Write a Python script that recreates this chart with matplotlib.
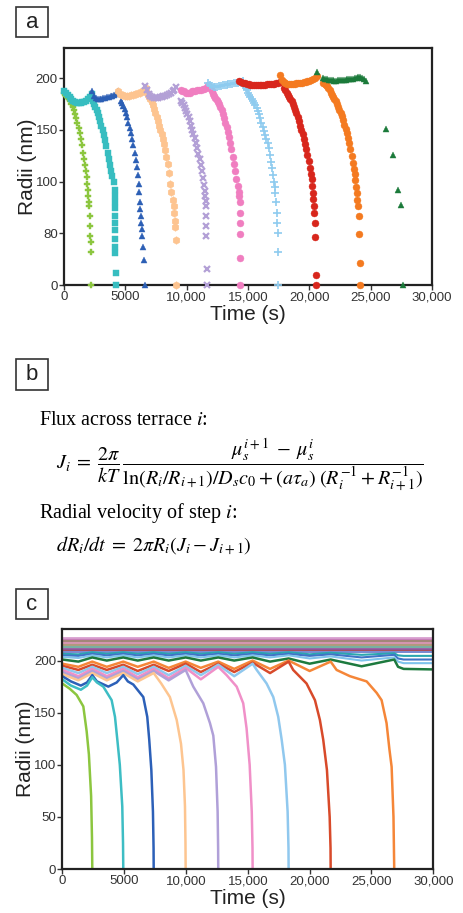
import numpy as np
import matplotlib
matplotlib.use('Agg')
import matplotlib.pyplot as plt
from matplotlib.patches import Rectangle

plt.rcParams['font.family'] = ['Liberation Sans', 'DejaVu Sans']
plt.rcParams['mathtext.fontset'] = 'stix'

# ---------------- panel a : measured radii (time s, radius nm) ----------------
a_green = np.array([(0,186),(100,184),(200,183),(300,181),(400,180),(500,178),(600,175),(700,172),(800,169),(900,165),
                    (1000,161),(1100,157),(1200,152),(1300,147),(1400,141),(1500,135),(1580,128),(1650,122),(1720,116),
                    (1790,110),(1850,104),(1900,98),(1950,92),(1990,86),(2030,80),(2060,76),(2090,67),(2120,57),
                    (2150,47),(2170,42),(2190,32),(2210,0)])
a_cyan = np.array([(0,187),(150,186),(300,184),(450,182),(600,180),(750,178),(900,177),(1050,176),(1200,176),(1350,176),
                   (1500,177),(1650,177),(1800,178),(1950,180),(2100,182),(2250,185),
                   (2350,178),(2450,175),(2550,172),(2650,169),(2750,166),(2850,162),(2950,158),(3050,154),(3150,150),
                   (3250,145),(3350,140),(3450,134),(3550,128),(3650,122),(3750,116),(3850,110),(3950,105),(4050,100),
                   (4120,92),(4160,86),(4170,80),(4170,74),(4170,67),(4170,60),(4180,53),(4180,44),(4180,37),(4190,31),
                   (4200,12),(4200,0)])
a_blue = np.array([(2300,187),(2450,183),(2600,181),(2750,180),(2900,180),(3050,180),(3200,181),(3350,181),(3500,182),
                   (3650,182),(3800,183),(3950,183),(4100,184),(4250,185),(4400,187),
                   (4650,178),(4750,176),(4850,173),(4950,170),(5050,166),(5150,162),(5250,157),(5350,152),(5450,147),
                   (5550,141),(5650,135),(5750,128),(5850,121),(5950,114),(6050,106),(6100,98),(6150,90),(6190,80),
                   (6200,73),(6250,67),(6290,60),(6330,54),(6380,47),(6450,37),(6560,24),(6620,0)])
a_peach = np.array([(4400,187),(4550,185),(4700,184),(4850,184),(5000,183),(5150,183),(5300,183),(5450,184),(5600,184),
                    (5750,185),(5900,185),(6050,186),(6200,186),(6350,187),(6500,188),(6650,190),
                    (6750,186),(6850,184),(6950,182),(7050,180),(7150,177),(7250,174),(7350,170),(7450,166),(7550,162),
                    (7650,158),(7750,154),(7850,150),(7950,146),(8050,141),(8150,136),(8250,130),(8350,124),(8450,117),
                    (8550,108),(8650,98),(8750,90),(8850,82),(8950,76),(9000,70),(9050,62),(9070,56),(9100,43),(9100,0)])
a_lav = np.array([(6600,192),(6750,188),(6900,185),(7050,183),(7200,182),(7350,181),(7500,181),(7650,181),(7800,182),
                  (7950,182),(8100,183),(8250,183),(8400,184),(8550,185),(8700,186),(8850,187),(9000,188),(9150,191),
                  (9550,178),(9650,176),(9750,174),(9850,171),(9950,168),(10050,165),(10150,162),(10250,158),
                  (10350,154),(10450,150),(10550,146),(10650,142),(10750,137),(10850,132),(10950,127),(11050,122),
                  (11150,116),(11250,110),(11350,103),(11420,97),(11480,91),(11520,86),(11560,81),(11560,76),
                  (11570,67),(11580,57),(11600,47),(11620,15),(11640,0)])
a_pink = np.array([(9500,188),(9650,187),(9800,187),(9950,186),(10100,186),(10250,186),(10400,187),(10550,187),
                   (10700,187),(10850,188),(11000,188),(11150,188),(11300,189),(11450,189),(11600,190),(11750,193),
                   (11850,191),(11950,189),(12050,187),(12150,185),(12250,183),(12350,181),(12450,179),(12550,177),
                   (12650,175),(12750,172),(12850,169),(12950,165),(13050,161),(13150,157),(13250,153),(13350,148),
                   (13450,143),(13550,137),(13650,131),(13750,124),(13850,117),(13950,110),(14050,102),(14150,96),
                   (14250,90),(14300,86),(14320,80),(14340,70),(14340,60),(14340,49),(14350,26),(14360,0)])
a_lblue = np.array([(11750,195),(11900,193),(12050,192),(12200,191),(12350,191),(12500,191),(12650,192),(12800,192),
                    (12950,193),(13100,193),(13250,193),(13400,194),(13550,194),(13700,194),(13850,195),(14000,195),
                    (14150,195),(14300,196),(14450,196),(14600,197),
                    (14700,192),(14800,190),(14900,188),(15000,186),(15100,184),(15200,182),(15300,180),(15400,178),
                    (15500,176),(15600,174),(15700,171),(15800,168),(15900,165),(16000,161),(16100,157),(16200,153),
                    (16300,149),(16400,145),(16500,141),(16600,137),(16700,132),(16800,126),(16900,119),(16980,113),
                    (17050,106),(17120,100),(17180,95),(17240,89),(17300,80),(17350,70),(17400,60),(17430,50),
                    (17460,32),(17480,0)])
a_red = np.array([(14300,197),(14450,196),(14600,195),(14750,195),(14900,194),(15050,194),(15200,193),(15350,193),
                  (15500,193),(15650,193),(15800,193),(15950,193),(16100,193),(16250,193),(16400,193),(16550,194),
                  (16700,194),(16850,194),(17000,194),(17150,194),(17300,195),(17450,195),(17600,196),(17750,197),
                  (17950,190),(18050,188),(18150,186),(18250,184),(18350,182),(18450,180),(18550,178),(18650,175),
                  (18750,172),(18850,169),(18950,166),(19050,162),(19150,158),(19250,154),(19350,150),(19450,146),
                  (19550,141),(19650,136),(19750,131),(19850,126),(19950,120),(20050,113),(20120,107),(20180,102),
                  (20230,96),(20280,89),(20320,83),(20360,76),(20400,70),(20440,60),(20480,46),(20530,10),(20580,0)])
a_orange = np.array([(17600,203),(17750,198),(17900,196),(18050,195),(18200,194),(18350,194),(18500,194),(18650,194),
                     (18800,194),(18950,195),(19100,195),(19250,195),(19400,195),(19550,196),(19700,196),(19850,197),
                     (20000,197),(20150,198),(20300,199),(20450,200),(20600,202),
                     (21150,195),(21250,194),(21350,193),(21450,192),(21550,190),(21650,188),(21750,186),(21850,184),
                     (21950,182),(22050,180),(22150,178),(22250,175),(22350,172),(22450,169),(22550,166),(22650,163),
                     (22750,159),(22850,155),(22950,151),(23050,147),(23150,142),(23250,137),(23350,131),(23450,125),
                     (23550,118),(23630,112),(23700,107),(23760,101),(23820,95),(23870,89),(23920,82),(23970,76),
                     (24020,67),(24080,49),(24120,21),(24160,0)])
a_dgreen = np.array([(20600,206),(21150,200),(21300,199),(21450,199),(21600,198),(21750,198),(21900,198),(22050,197),
                     (22200,197),(22350,198),(22500,198),(22650,198),(22800,198),(22950,198),(23100,199),(23250,199),
                     (23400,199),(23550,199),(23700,200),(23850,200),(24000,201),(24150,201),(24300,200),(24450,199),
                     (24600,197),(26210,151),(26810,126),(27220,92),(27440,77),(27630,0)])

# ---------------- panel c : simulated radii ----------------
c_green = np.array([(0,178),(600,173),(1160,167),(1700,156),(1970,132),(2150,110),(2330,70),(2400,30),(2425,0)])
c_cyan = np.array([(0,182),(700,176),(1500,172),(2000,176),(2425,184),(2800,179),(3315,175),(3990,162),(4260,146),
                   (4450,124),(4650,100),(4850,60),(4910,25),(4930,0)])
c_blue = np.array([(0,185),(700,180),(1500,176),(2000,179),(2425,186),(2800,180),(3720,175),(4400,179),(4930,186),
                   (5300,180),(5740,177),(6550,165),(6870,146),(7030,124),(7200,95),(7330,55),(7380,20),(7390,0)])
c_peach = np.array([(0,187),(1300,181),(2425,188),(3600,181),(4930,188),(6100,180),(7390,188),(8000,178),(8700,165),
                    (9250,143),(9600,120),(9800,95),(9920,60),(9960,25),(9975,0)])
c_lav = np.array([(0,189),(1300,183),(2425,190),(3600,183),(4930,190),(6100,182),(7390,190),(8600,181),(9975,191),
                  (10590,175),(11400,159),(11940,140),(12210,128),(12430,98),(12560,55),(12600,20),(12610,0)])
c_pink = np.array([(0,191),(1300,185),(2425,192),(3600,185),(4930,192),(6100,184),(7390,192),(8600,183),(9975,193),
                   (11200,182),(12610,194),(13290,186),(14100,175),(14630,159),(14900,135),(15150,100),(15320,55),
                   (15380,20),(15390,0)])
c_lblue = np.array([(0,193),(1300,188),(2425,194),(3600,188),(4930,194),(6100,187),(7390,194),(8600,186),(9975,195),
                    (11200,186),(12610,196),(13900,185),(15390,197),(15720,191),(16520,178),(17060,165),(17460,146),
                    (17740,124),(18000,100),(18220,55),(18290,20),(18300,0)])
c_red = np.array([(0,195),(1300,191),(2425,196),(3600,191),(4930,196),(6100,190),(7390,196),(8600,190),(9975,197),
                  (11200,189),(12610,197),(13900,189),(15390,198),(16800,188),(18300,199),(18670,191),(19750,178),
                  (20430,162),(20830,143),(21100,124),(21400,95),(21620,50),(21690,20),(21700,0)])
c_orange = np.array([(0,197),(1300,194),(2425,199),(3600,194),(4930,199),(6100,194),(7390,199),(8600,193),(9975,199),
                     (11200,193),(12610,199),(13900,192),(15390,200),(16800,192),(18300,200),(20000,190),(21700,199),
                     (22180,191),(23260,185),(24610,180),(25420,169),(25820,162),(26220,140),(26450,115),(26630,98),
                     (26780,50),(26840,0)])
c_time = [0,1300,2425,3600,4930,6100,7390,8600,9975,11200,12610,13900,15390,16800,18300,20000,21700,24200,26840,27150,27600,30000]
c_dgreen = [201,199,203,200,203,200,203,200,203,200,203,200,203,199,202,197,201,194.5,201,194,192,191.5]
c_surv1 = [203.5,202.5,205,203,205,203,205,203,205,203,205,203,205,203,205,202,204,200,203,199,197.5,197.5]
c_surv2 = [205,204.5,206.5,205,206.5,205,206.5,205,206.5,205,206.5,205,206.5,205,206.5,204.5,206,203,205.5,202,201,201]
c_surv3 = [206.5,206,208,206.5,208,206.5,208,206.5,208,206.5,208,206.5,208,206.5,208,206,207.5,205.5,207,205,204.5,204.5]
flat_ends = [0, 30000]
flat_levels = [208.5, 210, 211.5, 213, 215, 217, 218.5, 220.5, 222]

xticks = [0, 5000, 10000, 15000, 20000, 25000, 30000]
xticklabels = ['0', '5000', '10,000', '15,000', '20,000', '25,000', '30,000']
a_yticklabels = ['0', '80', '100', '150', '200']
c_yticklabels = ['0', '50', '100', '150', '200']

W, H = 463, 913
fig = plt.figure(figsize=(W / 100, H / 100), dpi=100)


def style_axes(ax, ylim, ylabels):
    ax.set_xlim(0, 30000)
    ax.set_ylim(0, ylim)
    ax.set_xticks(xticks)
    ax.set_xticklabels(xticklabels)
    ax.set_yticks([0, 50, 100, 150, 200])
    ax.set_yticklabels(ylabels)
    ax.tick_params(direction='out', length=3.5, width=1, labelsize=9.5, pad=1, colors='#333333')
    for s in ax.spines.values():
        s.set_linewidth(1.6)
        s.set_color('#222222')
    ax.set_xlabel('Time (s)', fontsize=15, labelpad=1, color='#222222')
    ax.set_ylabel('Radii (nm)', fontsize=15, labelpad=-1, color='#222222')


# panel a
ax_a = fig.add_axes([64 / W, 1 - 285 / H, 368 / W, 237 / H])
series_a = [
    (a_green, '#8cc63f', 'P', 5, 0),
    (a_cyan, '#37bdc0', 's', 4.5, 0),
    (a_blue, '#2c5fb5', '^', 5, 0),
    (a_peach, '#fdc490', 'h', 5.5, 0),
    (a_lav, '#b3a0d6', 'x', 5, 1.6),
    (a_pink, '#f07ec0', 'o', 5, 0),
    (a_lblue, '#8ecbef', '+', 6, 1.2),
    (a_red, '#d8261c', 'o', 5, 0),
    (a_orange, '#f47a20', 'o', 5, 0),
    (a_dgreen, '#1b7a3a', '^', 5, 0),
]
for pts, col, mk, ms, mew in series_a:
    ax_a.plot(pts[:, 0], pts[:, 1], linestyle='none', marker=mk, ms=ms, color=col,
              mew=mew if mew else 0.3, mec=col, clip_on=False, zorder=3)
style_axes(ax_a, 229, a_yticklabels)

# panel c
ax_c = fig.add_axes([62.3 / W, 1 - 869 / H, 371 / W, 239.7 / H])
flat_colors = ['#6d7fcc', '#a23a4a', '#8c559c', '#6aa89a', '#a89070', '#d08aa8', '#9a7a6a', '#c070b0', '#d8a0d0']
for lev, col in zip(flat_levels, flat_colors):
    ax_c.plot(flat_ends, [lev, lev], color=col, lw=1.3)
ax_c.plot(c_time, c_surv3, color='#2aa6b0', lw=1.5)
ax_c.plot(c_time, c_surv2, color='#3f74c6', lw=1.5)
ax_c.plot(c_time, c_surv1, color='#7ec3ec', lw=1.5)
ax_c.plot(c_time, c_dgreen, color='#1d7a3e', lw=1.8)
series_c = [
    (c_orange, '#f58638'),
    (c_red, '#d84a2a'),
    (c_lblue, '#90c8ee'),
    (c_pink, '#f090c8'),
    (c_lav, '#b0a0d8'),
    (c_peach, '#fdc590'),
    (c_blue, '#2c60b8'),
    (c_cyan, '#3dbdc4'),
    (c_green, '#8cc63f'),
]
for pts, col in series_c:
    ax_c.plot(pts[:, 0], pts[:, 1], color=col, lw=1.8)
style_axes(ax_c, 230, c_yticklabels)

# panel letter boxes
for letter, top in [('a', 7), ('b', 359.3), ('c', 588.7)]:
    fig.add_artist(Rectangle((16 / W, 1 - (top + 30.5) / H), 32 / W, 30.5 / H, transform=fig.transFigure,
                             fill=False, ec='#333333', lw=1.2))
    fig.text(32 / W, 1 - (top + 15.5) / H, letter, fontsize=16, ha='center', va='center', color='#222222')

# panel b : model equations
serif = ['Liberation Serif', 'DejaVu Serif']
fig.text(39 / W, 1 - 425 / H, 'Flux across terrace $i$:', fontsize=14.5, family=serif, va='baseline')
fig.text(56 / W, 1 - 465 / H,
         r'$J_i\;=\;\dfrac{2\pi}{kT}\,\dfrac{\mu_s^{i+1}\;-\;\mu_s^{i}}'
         r'{\ln(R_i/R_{i+1})/D_s c_0 + (a\tau_a)\;(R_i^{-1} + R_{i+1}^{-1})}$',
         fontsize=14.5, va='center')
fig.text(39 / W, 1 - 518 / H, 'Radial velocity of step $i$:', fontsize=14.5, family=serif, va='baseline')
fig.text(56 / W, 1 - 551.7 / H, r'$dR_i/dt\;=\;2\pi R_i(J_i - J_{i+1})$', fontsize=14.5, va='baseline')

fig.savefig('out.png', dpi=100)
